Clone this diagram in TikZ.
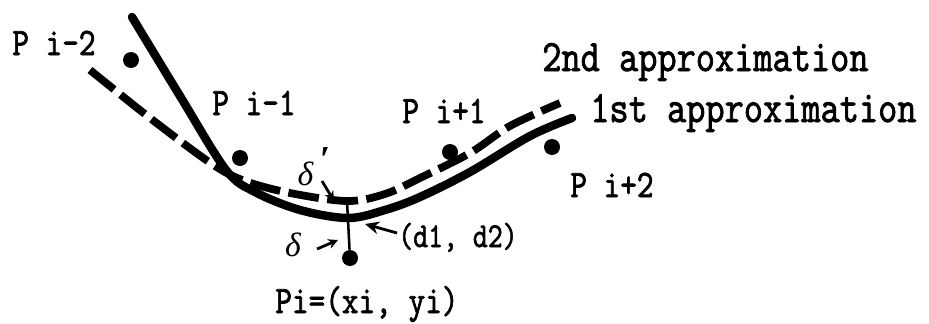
\documentclass[tikz,border=0pt]{standalone}
\usepackage{fontspec,graphicx}
\usetikzlibrary{arrows.meta}
\newfontfamily\monofnt[FakeBold=2]{Latin Modern Mono}
\newfontfamily\grkfnt{Liberation Serif}
\newcommand{\stretched}[1]{\scalebox{1}[1.2]{#1}}
\tikzset{dot/.style={circle,fill=black,inner sep=0pt,minimum size=4mm}, firstapp/.style={line width=6pt,line cap=round,line join=round}, secondapp/.style={line width=5.5pt,dash pattern=on 22pt off 6pt,line join=round}, biglbl/.style={font=\monofnt\fontsize{26.5}{28}\selectfont,inner sep=0pt,anchor=base west}, midlbl/.style={font=\monofnt\fontsize{23}{25}\selectfont,inner sep=0pt,anchor=base west}, smalllbl/.style={font=\monofnt\fontsize{20.6}{22}\selectfont,inner sep=0pt,anchor=base west}, greek/.style={font=\grkfnt\itshape\fontsize{24}{26}\selectfont,inner sep=0pt}, arr/.style={-{Stealth[length=7pt,width=7pt]},line width=2pt}}

\begin{document}
\begin{tikzpicture}[x=0.025cm,y=-0.025cm]
\useasboundingbox (0,0) rectangle (929,323);
\node[dot](pim2)at(131,60){};\node[dot](pim1)at(240,158){};\node[dot](pip1)at(450,152){};\node[dot](pip2)at(552,147){};\node[dot](pi)at(350,258){};
\draw[firstapp] plot[smooth,tension=0.55] coordinates{(132,17)(180,96)(226,170)(255,192)(300,210)(348,218)(385,210)(420,197)(470,172)(530,136)(572,118)};
\draw[secondapp] plot[smooth,tension=0.55] coordinates{(90,70)(150,118)(212,164)(245,181)(290,193)(347,201)(385,194)(420,178)(470,153)(510,126)(560,103)};
\coordinate(foot)at(347,201);\draw[line width=1.8pt](foot)--(pi);
\node[midlbl](lpim2)at(12,55){\stretched{P i-2}};\node[midlbl](lpim1)at(212,115){\stretched{P i-1}};\node[midlbl](lpip1)at(402,123){\stretched{P i+1}};\node[midlbl](lpip2)at(570,197){\stretched{P i+2}};
\node[biglbl](lsecond)at(542,71){\stretched{2nd approximation}};\node[biglbl](lfirst)at(590,122){\stretched{1st approximation}};
\node[midlbl](lpi)at(275,313){\stretched{Pi=(xi, yi)}};\node[smalllbl](ld)at(398,247){\stretched{(d1, d2)}};
\node[greek](ldeltap)at(314,167){δ\hspace{5pt}\raisebox{0.9ex}{\fontsize{26}{26}\selectfont\bfseries\upshape ′}};\node[greek](ldelta)at(293,245){δ};
\coordinate(dpa)at(322,181);\coordinate(dpb)at(334,201);\draw[arr](dpa)--(dpb);
\coordinate(da)at(317,249);\coordinate(db)at(338,240);\draw[arr](da)--(db);
\coordinate(dda)at(397,233);\coordinate(ddb)at(365,224);\draw[arr,-{Stealth[length=10pt,width=9pt]}](dda)--(ddb);
\end{tikzpicture}
\end{document}
